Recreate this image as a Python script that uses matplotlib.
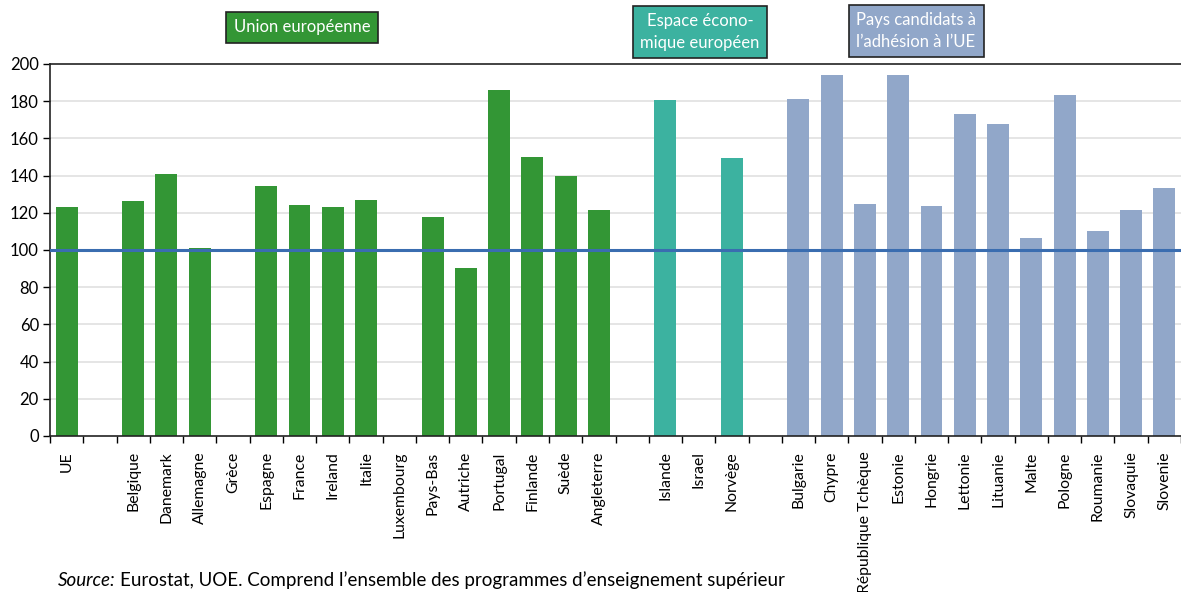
import numpy as np
import matplotlib
matplotlib.use("Agg")
import matplotlib.pyplot as plt

plt.rcParams['font.family'] = ['Lato', 'DejaVu Sans']

# --- data ---
categories = ["UE", "", "Belgique", "Danemark", "Allemagne", "Grèce", "Espagne", "France",
              "Ireland", "Italie", "Luxembourg", "Pays-Bas", "Autriche", "Portugal",
              "Finlande", "Suède", "Angleterre", "", "Islande", "Israel", "Norvège", "",
              "Bulgarie", "Chypre", "République Tchèque", "Estonie", "Hongrie", "Lettonie",
              "Lituanie", "Malte", "Pologne", "Roumanie", "Slovaquie", "Slovenie"]
values = [123, None, 126.3, 141, 101, None, 134.4, 124.2,
          123, 127, None, 117.7, 90.3, 186,
          150, 139.8, 121.5, None, 180.6, None, 149.5, None,
          181.2, 194, 124.7, 194, 123.7, 173,
          167.7, 106.5, 183.3, 110.2, 121.5, 133.3]
groups = ["UE"] * 17 + ["", "EEE", "EEE", "EEE", ""] + ["PC"] * 12
reference_value = 100
group_labels = ["Union européenne", "Espace écono-\nmique européen", "Pays candidats à\nl’adhésion à l’UE"]
y_ticks = [0, 20, 40, 60, 80, 100, 120, 140, 160, 180, 200]

colors = {"UE": "#339635", "EEE": "#3cb2a0", "PC": "#91a7c9", "": "#ffffff"}

fig = plt.figure(figsize=(11.81, 5.92), dpi=100)
ax = fig.add_axes([50 / 1181, 1 - 436 / 592, 1 - 50 / 1181, (436 - 64) / 592])

x = np.arange(len(categories))
vals = np.array([np.nan if v is None else v for v in values], dtype=float)
ax.bar(x, np.nan_to_num(vals), width=0.66, color=[colors[g] for g in groups], zorder=2)

ax.axhline(reference_value, color="#3a6db0", lw=2.2, zorder=3)

ax.set_xlim(-0.5, len(categories) - 0.5)
ax.set_ylim(0, 200)
ax.set_yticks(y_ticks)
ax.set_yticklabels([str(t) for t in y_ticks], fontsize=12)
for t in y_ticks[1:-1]:
    ax.axhline(t, color="#e0e0e0", lw=1.2, zorder=1)

ax.set_xticks(np.arange(len(categories) + 1) - 0.5, minor=False)
ax.set_xticklabels([])
ax.set_xticks(x, minor=True)
ax.set_xticklabels(categories, minor=True, rotation=90, fontsize=11.3, va="top")
ax.tick_params(axis="x", which="minor", length=0, pad=11)
ax.tick_params(axis="x", which="major", length=5, width=1, direction="out")
ax.tick_params(axis="y", length=5, width=1, direction="out", pad=3)

for s in ["left", "bottom", "top"]:
    ax.spines[s].set_color("#222222")
    ax.spines[s].set_linewidth(1.2)
ax.spines["right"].set_visible(False)

# group label boxes
box_specs = [
    (302 / 1181, 1 - 27 / 592, group_labels[0], colors["UE"]),
    (700 / 1181, 1 - 32 / 592, group_labels[1], colors["EEE"]),
    (916 / 1181, 1 - 31 / 592, group_labels[2], colors["PC"]),
]
for bx, by, txt, c in box_specs:
    fig.text(bx, by, txt, ha="center", va="center", color="white", fontsize=12,
             linespacing=1.4,
             bbox=dict(boxstyle="square,pad=0.45", fc=c, ec="#222222", lw=1.2))

t1 = fig.text(58 / 1181, 1 - 580 / 592, "Source:", style="italic", fontsize=13.5, va="center", ha="left")
fig.canvas.draw()
bb = t1.get_window_extent(fig.canvas.get_renderer())
fig.text((bb.x1 + 4) / 1181, 1 - 580 / 592,
         "Eurostat, UOE. Comprend l’ensemble des programmes d’enseignement supérieur",
         fontsize=13.5, va="center", ha="left")

fig.savefig("out.png", dpi=100)
